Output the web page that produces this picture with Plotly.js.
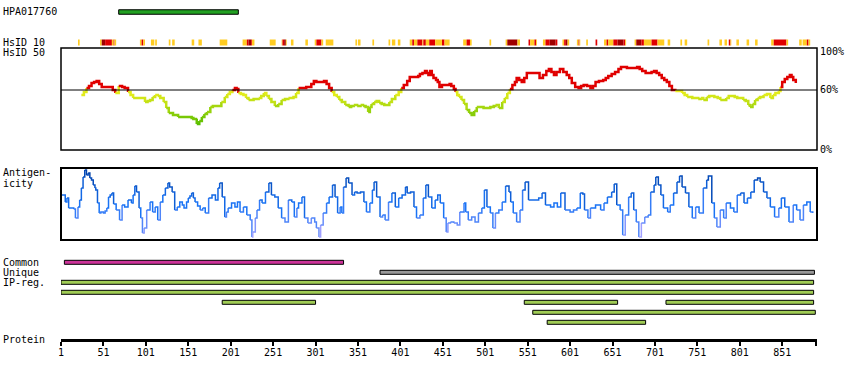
<!DOCTYPE html>
<html><head><meta charset="utf-8">
<script src="https://cdn.plot.ly/plotly-3.0.1.min.js"></script>
<style>html,body{margin:0;padding:0;background:#fff}#chart{width:850px;height:380px}</style>
</head><body><div id="chart"></div>
<script>
// ---------- data ----------
const proteinName = 'HPA017760';
const proteinLength = 891;
const antigenStart = 69, antigenEnd = 210;

const simRes = [25,28,31,34,37,40,43,46,49,52,55,59,62,65,69,73,76,80,83,86,92,98,100,103,106,109,112,115,118,122,125,128,133,139,145,151,155,157,160,161,164,167,170,173,177,180,186,190,194,197,200,203,206,208,210,213,216,219,222,225,228,231,234,237,240,243,246,249,253,257,261,265,269,272,275,278,281,286,290,293,296,299,302,305,308,311,314,317,320,323,326,329,332,336,340,343,346,350,354,357,360,363,365,367,370,373,376,379,382,385,388,391,395,399,402,405,409,412,416,420,422,424,427,430,432,434,436,438,440,443,445,447,450,455,459,461,464,466,468,470,473,476,479,482,485,488,491,495,499,503,507,511,513,517,521,524,527,530,533,536,538,541,544,547,550,556,562,565,569,573,576,579,582,585,589,593,597,600,603,607,611,614,617,621,625,628,631,635,640,643,646,650,654,658,661,664,668,672,676,680,683,686,690,694,697,700,703,706,709,712,715,718,721,725,729,733,736,739,742,745,749,752,755,758,762,765,768,771,775,778,782,785,788,792,795,798,802,805,808,811,813,816,819,822,825,829,833,837,840,843,847,849,851,854,857,860,862,864,867];
const simVal = [55,58,62,64,67,68,69,66,63,63,63,63,60,57,64,63,62,58,55,52,52,52,48,49,50,53,55,54,52,48,42,37,35,33,33,33,32,31,30,26,29,33,36,38,43,44,44,48,53,56,58,60,62,61,57,56,55,52,50,50,51,51,52,54,57,54,51,48,44,46,50,51,52,52,53,57,62,62,63,63,66,69,68,68,68,69,66,62,58,55,53,50,48,45,43,44,45,44,45,44,43,38,43,46,48,49,47,46,45,45,48,51,55,58,62,65,69,73,73,73,74,76,77,79,77,75,79,75,72,70,68,63,65,65,66,64,61,58,55,53,50,46,40,37,35,39,43,43,42,42,43,44,45,42,48,52,57,61,65,68,72,70,68,72,77,77,77,72,75,79,81,78,75,78,81,78,75,72,67,63,62,64,65,64,62,64,68,69,70,72,74,76,78,81,83,83,82,82,82,83,81,79,77,77,78,79,77,75,72,70,68,64,60,59,59,57,55,53,53,52,52,51,52,50,53,54,54,53,52,50,50,52,54,54,53,52,52,50,49,45,43,46,50,52,53,55,56,52,55,57,59,63,68,71,73,75,73,70,67];

const antRes = [2,4,6,8,10,13,16,18,21,23,25,27,29,31,33,35,37,39,41,42,44,46,48,51,53,55,57,59,61,63,66,68,70,73,76,80,84,86,88,90,93,95,97,99,102,106,109,112,115,118,121,124,127,129,132,135,138,141,144,146,149,151,153,155,157,159,162,165,168,171,175,179,183,186,188,191,194,196,198,202,206,209,212,216,220,224,226,227,230,232,235,238,242,246,249,253,257,261,265,269,273,276,279,281,285,288,292,296,300,302,305,307,310,314,317,321,324,327,330,332,334,337,340,344,347,350,354,358,361,365,368,370,373,377,380,383,387,391,395,399,403,407,409,413,417,420,424,428,431,434,438,442,445,448,452,455,457,460,464,468,471,476,478,481,485,489,493,497,500,503,507,510,513,517,521,525,529,531,534,538,542,545,548,552,558,564,568,572,578,582,586,590,595,601,605,609,613,616,618,622,625,631,637,641,645,650,653,656,660,663,666,670,673,676,679,682,685,689,693,696,700,702,705,708,711,716,719,723,727,730,733,737,741,745,749,753,758,762,764,768,771,774,778,782,785,790,794,798,802,806,810,814,818,822,825,829,833,837,842,847,850,854,859,864,868,872,876,880,884,887];
const antVal = [45,45,38,42,32,32,31,22,33,40,52,63,70,65,67,62,60,55,52,50,37,27,28,27,29,32,43,45,47,36,30,30,20,35,33,40,37,45,54,48,32,22,7,12,30,38,28,33,20,38,45,52,57,53,48,30,33,38,35,32,38,42,44,47,42,38,34,30,32,27,42,45,40,52,57,43,23,28,32,37,33,38,28,33,25,20,3,8,22,30,40,37,48,57,45,43,32,22,18,40,38,23,32,37,43,22,17,22,18,12,3,15,27,37,43,55,43,27,33,27,53,62,57,45,48,47,48,38,28,37,50,58,43,23,25,20,38,47,33,42,45,53,47,48,33,22,25,42,55,43,32,40,45,37,22,8,17,18,17,15,28,37,28,20,23,18,27,32,50,33,27,12,27,30,38,54,48,38,27,18,30,50,58,40,40,42,47,35,33,37,33,47,30,28,30,32,47,46,30,22,32,35,30,37,43,48,56,35,30,5,25,43,47,30,18,3,17,23,25,48,55,63,55,45,32,28,35,47,58,64,53,47,33,22,33,27,52,60,64,37,22,13,30,22,37,32,28,45,47,37,42,48,60,62,58,48,42,33,23,32,42,33,18,35,30,20,35,38,28,27];

// HsID 10 regions: level 1 = yellow, 2 = red, 3 = dark red
const hsidStart = [21,47,49,53,61,63,64,94,96,98,107,112,128,132,155,163,188,215,220,222,225,226,247,261,262,264,266,272,289,300,302,308,313,348,351,368,387,391,398,412,415,417,421,427,428,431,435,442,450,453,475,479,483,506,525,527,539,552,554,559,561,569,572,577,584,592,594,596,598,609,611,612,620,631,641,644,646,652,657,664,666,677,679,685,688,697,704,716,731,736,763,777,783,788,790,797,809,819,838,841,856,871,875,880,882];
const hsidEnd   = [23,49,53,61,63,64,66,96,98,100,111,114,130,135,158,167,197,220,222,225,226,229,254,262,264,266,267,275,292,302,308,310,322,350,354,370,389,395,401,415,417,421,427,428,431,435,442,450,453,459,479,483,485,508,527,539,542,554,559,561,562,572,577,584,586,594,596,598,600,611,612,613,622,633,644,646,652,657,664,666,667,679,685,688,697,704,712,719,733,739,765,780,786,790,791,800,812,822,841,856,858,874,880,882,884];
const hsidLevel = [1,1,3,2,1,2,1,1,2,1,1,1,1,1,1,1,1,1,2,3,2,1,1,1,2,3,1,1,1,1,2,1,1,1,1,1,1,1,1,1,2,1,2,1,2,1,2,1,2,1,1,2,1,1,1,3,1,2,1,2,1,1,2,3,2,1,2,3,1,1,2,1,1,2,1,2,1,2,3,2,1,1,3,2,1,2,1,1,1,1,1,1,1,2,1,1,1,1,1,2,1,1,1,2,1];

const commonRegions = [[5,334]];
const uniqueRegions = [[377,889]];
const ipRegRows = [
  [[1,888]],
  [[1,888]],
  [[191,301],[547,657],[714,888]],
  [[557,890]],
  [[574,690]]
];
const tickVals = [1,51,101,151,201,251,301,351,401,451,501,551,601,651,701,751,801,851,891];
const tickText = ['1','51','101','151','201','251','301','351','401','451','501','551','601','651','701','751','801','851',''];

// ---------- helpers ----------
const H = 380, L = 61, R = 817;
const pxX = x => (x - L) / (R - L);
const pxY = y => 1 - y / H;
const FONT = {family: 'DejaVu Sans Mono, monospace', size: 10, color: '#000'};

function simColor(v) {
  if (v >= 60) return 'rgb(224,0,0)';
  let t = Math.min(1, Math.max(0, (60 - v) / 35));
  t = Math.round(t * 10) / 10;
  const r = Math.round(240 - t * 150), g = Math.round(240 - t * 50), b = Math.round(30 - t * 30);
  return `rgb(${r},${g},${b})`;
}
function antColor(v) {
  let t = Math.min(1, Math.max(0, v / 70));
  t = Math.round(t * 10) / 10;
  let c;
  if (t < 0.5) { const u = t / 0.5; c = [160 - u * 135, 160 - u * 45, 255 - u * 10]; }
  else { const u = (t - 0.5) / 0.5; c = [25 - u * 25, 115 - u * 50, 245 - u * 75]; }
  return `rgb(${Math.round(c[0])},${Math.round(c[1])},${Math.round(c[2])})`;
}
function coloredTraces(xs, ys, colorFn, yaxis, width) {
  const out = [];
  let a = 0;
  for (let i = 1; i <= xs.length - 1; i++) {
    const endRun = (i === xs.length - 1) || colorFn(ys[i]) !== colorFn(ys[a]);
    if (endRun) {
      out.push({type: 'scatter', mode: 'lines', x: xs.slice(a, i + 1), y: ys.slice(a, i + 1),
        xaxis: 'x', yaxis: yaxis, line: {color: colorFn(ys[a]), width: width, shape: 'hv'},
        hoverinfo: 'skip', showlegend: false});
      a = i;
    }
  }
  return out;
}

const traces = [].concat(
  coloredTraces(simRes, simVal, simColor, 'y', 2.5),
  coloredTraces(antRes, antVal, antColor, 'y2', 1.5)
);

const shapes = [];
function bar(x0, x1, yc, fill, h) {
  shapes.push({type: 'rect', xref: 'x', yref: 'paper', x0: x0, x1: x1,
    y0: pxY(yc + h / 2), y1: pxY(yc - h / 2), fillcolor: fill, line: {color: '#000', width: 1}, layer: 'above'});
}
// antigen bar
bar(antigenStart, antigenEnd, 12, '#22a022', 4.5);
// HsID 10 track
const hsidColors = {1: '#ffcc22', 2: '#e00000', 3: '#a00000'};
for (let i = 0; i < hsidStart.length; i++) {
  shapes.push({type: 'rect', xref: 'x', yref: 'paper', x0: hsidStart[i], x1: hsidEnd[i],
    y0: pxY(45.5), y1: pxY(39.5), fillcolor: hsidColors[hsidLevel[i]], line: {width: 0}});
}
// panel boxes
shapes.push({type: 'rect', xref: 'x domain', yref: 'y domain', x0: 0, x1: 1, y0: 0, y1: 1, line: {color: '#000', width: 1.5}});
shapes.push({type: 'line', xref: 'x domain', yref: 'y', x0: 0, x1: 1, y0: 60, y1: 60, line: {color: '#000', width: 1}});
shapes.push({type: 'rect', xref: 'x domain', yref: 'y2 domain', x0: 0, x1: 1, y0: 0, y1: 1, line: {color: '#000', width: 2}});
// region bars
commonRegions.forEach(r => bar(r[0], r[1], 262.3, '#cc3399', 4));
uniqueRegions.forEach(r => bar(r[0], r[1], 272.3, '#999999', 4));
ipRegRows.forEach((row, k) => row.forEach(r => bar(r[0], r[1], 282.3 + 10 * k, '#a0cc55', 4)));

const ann = [];
function label(text, x, y, xref, yref) {
  ann.push({text: text, x: x, y: y, xref: xref || 'paper', yref: yref || 'paper',
    xanchor: 'left', yanchor: 'middle', showarrow: false, font: FONT});
}
label(proteinName, pxX(1), pxY(12));
label('HsID 10', pxX(1), pxY(42));
label('HsID 50', pxX(1), pxY(53));
label('Antigen-', pxX(1), pxY(172.5));
label('icity', pxX(1), pxY(183));
label('Common', pxX(1), pxY(262));
label('Unique', pxX(1), pxY(272));
label('IP-reg.', pxX(1), pxY(282));
label('Protein', pxX(1), pxY(339));
label('100%', pxX(818), 98, 'paper', 'y');
label('60%', pxX(818), 60, 'paper', 'y');
label('0%', pxX(818), 0, 'paper', 'y');

const layout = {
  width: 850, height: 380,
  margin: {l: L, r: 850 - R, t: 0, b: 0},
  paper_bgcolor: '#fff', plot_bgcolor: 'rgba(0,0,0,0)',
  showlegend: false,
  xaxis: {range: [1, 892], anchor: 'free', position: pxY(339.5), domain: [0, 1],
    showline: true, linewidth: 3, linecolor: '#000', ticks: 'outside', ticklen: 4, tickwidth: 2, tickcolor: '#000',
    ticklabelstandoff: -2,
    tickmode: 'array', tickvals: tickVals, ticktext: tickText, tickfont: FONT,
    showgrid: false, zeroline: false, fixedrange: true},
  yaxis: {domain: [pxY(150), pxY(48)], range: [0, 102], anchor: 'x', visible: false, fixedrange: true},
  yaxis2: {domain: [pxY(240), pxY(168)], range: [0, 72], anchor: 'x', visible: false, fixedrange: true},
  shapes: shapes,
  annotations: ann
};
Plotly.newPlot('chart', traces, layout, {staticPlot: true, displayModeBar: false});
</script>
</body></html>
